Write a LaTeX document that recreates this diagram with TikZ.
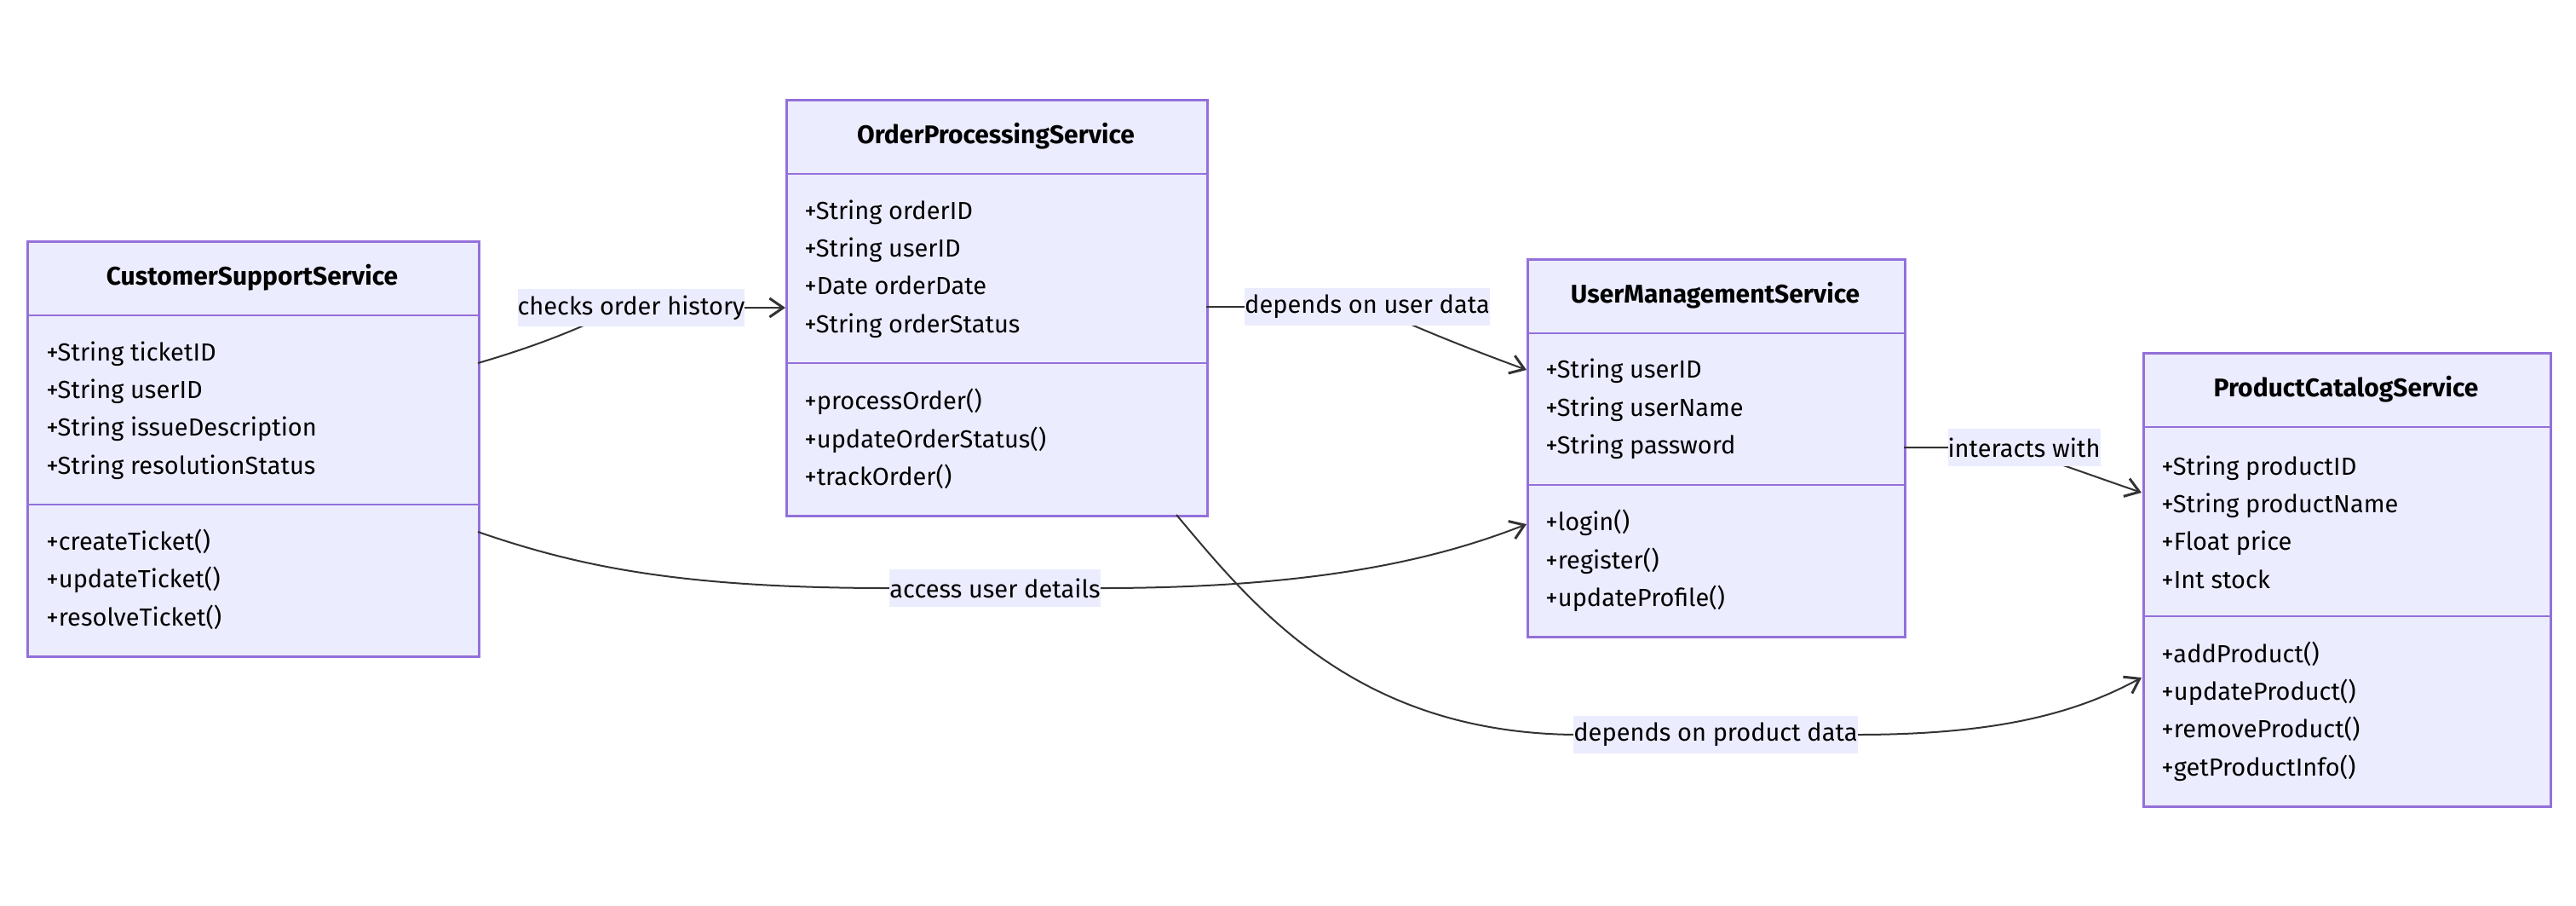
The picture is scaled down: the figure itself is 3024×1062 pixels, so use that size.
\documentclass[tikz,border=0pt]{standalone}
\usepackage{fontspec}
\setmainfont{Fira Sans}
\usetikzlibrary{arrows.meta}

\definecolor{boxfill}{HTML}{ECECFF}
\definecolor{boxline}{HTML}{9370DB}
\definecolor{edgeline}{HTML}{333333}

\tikzset{
  classbox/.style={draw=boxline, fill=boxfill, line width=1.3pt, anchor=north west, inner sep=0pt},
  classsep/.style={draw=boxline, line width=1.3pt},
  classtitle/.style={font=\fontsize{15}{22.2}\selectfont\bfseries, inner sep=0pt},
  member/.style={font=\fontsize{14.5}{22.2}\selectfont, anchor=west, align=left, inner sep=0pt},
  rel/.style={draw=edgeline, line width=1pt, -{Straight Barb[length=8pt, width=11pt, line width=1.5pt]}},
  rellabel/.style={fill=boxfill, font=\fontsize{14.5}{22.2}\selectfont, inner xsep=0pt, inner ysep=0pt, minimum height=22pt}
}

\begin{document}
\begin{tikzpicture}[x=0.5pt, y=-0.5pt]
  \useasboundingbox (0,0) rectangle (3024,1062);

  % CustomerSupportService
  \node[classbox, minimum width=265pt, minimum height=243.5pt] (css) at (31,282) {};
  \draw[classsep] (31,370) -- (561,370);
  \draw[classsep] (31,592) -- (561,592);
  \node[classtitle] (css-title) at (296,326) {CustomerSupportService};
  \node[member] (css-attr) at (54,481.5) {+String ticketID\\+String userID\\+String issueDescription\\+String resolutionStatus};
  \node[member] (css-meth) at (54,679.5) {+createTicket()\\+updateTicket()\\+resolveTicket()};

  % OrderProcessingService
  \node[classbox, minimum width=247pt, minimum height=244pt] (ops) at (922,116) {};
  \draw[classsep] (922,204) -- (1416,204);
  \draw[classsep] (922,426) -- (1416,426);
  \node[classtitle] (ops-title) at (1169,160) {OrderProcessingService};
  \node[member] (ops-attr) at (944,315.5) {+String orderID\\+String userID\\+Date orderDate\\+String orderStatus};
  \node[member] (ops-meth) at (944,515) {+processOrder()\\+updateOrderStatus()\\+trackOrder()};

  % UserManagementService
  \node[classbox, minimum width=221.5pt, minimum height=221.5pt] (ums) at (1792,303) {};
  \draw[classsep] (1792,391) -- (2235,391);
  \draw[classsep] (1792,569) -- (2235,569);
  \node[classtitle] (ums-title) at (2013.5,347) {UserManagementService};
  \node[member] (ums-attr) at (1814,480) {+String userID\\+String userName\\+String password};
  \node[member] (ums-meth) at (1814,658) {+login()\\+register()\\+updateProfile()};

  % ProductCatalogService
  \node[classbox, minimum width=239pt, minimum height=266pt] (pcs) at (2515,413) {};
  \draw[classsep] (2515,501) -- (2993,501);
  \draw[classsep] (2515,723) -- (2993,723);
  \node[classtitle] (pcs-title) at (2754,457) {ProductCatalogService};
  \node[member] (pcs-attr) at (2537,612.5) {+String productID\\+String productName\\+Float price\\+Int stock};
  \node[member] (pcs-meth) at (2537,834.5) {+addProduct()\\+updateProduct()\\+removeProduct()\\+getProductInfo()};

  % end points of the relations
  \coordinate (css-o1) at (561,426);
  \coordinate (css-o2) at (561,624);
  \coordinate (ops-i1) at (922,361);
  \coordinate (ops-o1) at (1416,360);
  \coordinate (ops-o2) at (1381,604);
  \coordinate (ums-i1) at (1792,434);
  \coordinate (ums-i2) at (1792,615);
  \coordinate (ums-o1) at (2235,525);
  \coordinate (pcs-i1) at (2514,578);
  \coordinate (pcs-i2) at (2514,795);
  \coordinate (l1) at (741,361);
  \coordinate (l2) at (1605,360);
  \coordinate (l3) at (2376,525);
  \coordinate (l4) at (1168,690);
  \coordinate (l5) at (2014,862);

  % relations
  \draw[rel] (css-o1) .. controls (685,390) and (720,361) .. (l1) -- (ops-i1);
  \draw[rel] (ops-o1) -- (l2) .. controls (1615,360) and (1650,382) .. (ums-i1);
  \draw[rel] (ums-o1) -- (2330,525) .. controls (2370,525) and (2395,537) .. (pcs-i1);
  \draw[rel] (css-o2) .. controls (680,665) and (800,690) .. (1044,690) -- (l4) -- (1292,690) .. controls (1550,690) and (1690,655) .. (ums-i2);
  \draw[rel] (ops-o2) .. controls (1470,710) and (1590,860) .. (1850,862) -- (l5) -- (2179,862) .. controls (2350,862) and (2440,835) .. (pcs-i2);

  % relation labels
  \node[rellabel] (l1-text) at (l1) {checks order history};
  \node[rellabel] (l2-text) at (l2) {depends on user data};
  \node[rellabel] (l3-text) at (l3) {interacts with};
  \node[rellabel] (l4-text) at (l4) {access user details};
  \node[rellabel] (l5-text) at (l5) {depends on product data};
\end{tikzpicture}
\end{document}
